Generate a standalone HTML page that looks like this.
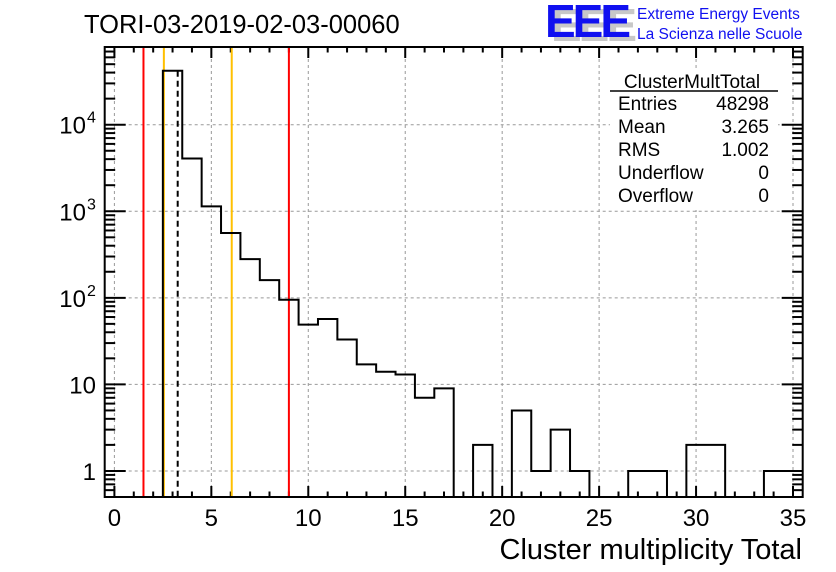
<!DOCTYPE html>
<html><head><meta charset="utf-8"><style>
html,body{margin:0;padding:0;background:#fff;}
svg{display:block;font-family:"Liberation Sans",sans-serif;}
</style></head><body>
<svg id="c" width="836" height="572" viewBox="0 0 836 572">
<rect width="836" height="572" fill="#fff"/>
<g id="grid"></g><g id="ticks"></g><g id="lines"></g><g id="hist"></g>
<rect x="104.7" y="47" width="698" height="450" fill="none" stroke="#000" stroke-width="2"/>
<text x="84" y="33" font-size="25.5">TORI-03-2019-02-03-00060</text>
<g>
<text x="551" y="41" font-size="46" font-weight="bold" fill="#c8c8c8" letter-spacing="-3">EEE</text>
<text x="545" y="37" font-size="46" font-weight="bold" fill="#1010f0" letter-spacing="-3">EEE</text>
<text x="637" y="19" font-size="15.5" fill="#1010f0">Extreme Energy Events</text>
<text x="637" y="39" font-size="15.5" fill="#1010f0">La Scienza nelle Scuole</text>
</g>
<g font-size="19">
<rect x="610" y="70" width="168" height="140" fill="#fff"/>
<text x="692" y="88" text-anchor="middle">ClusterMultTotal</text>
<line x1="610" y1="91" x2="778" y2="91" stroke="#000" stroke-width="1.5"/>
<text x="618" y="110">Entries</text><text x="769" y="110" text-anchor="end">48298</text>
<text x="618" y="133">Mean</text><text x="769" y="133" text-anchor="end">3.265</text>
<text x="618" y="156">RMS</text><text x="769" y="156" text-anchor="end">1.002</text>
<text x="618" y="179">Underflow</text><text x="769" y="179" text-anchor="end">0</text>
<text x="618" y="202">Overflow</text><text x="769" y="202" text-anchor="end">0</text>
</g>
<text x="802" y="559" font-size="29" text-anchor="end">Cluster multiplicity Total</text>
</svg>
<script>
const binCenters=[0,1,2,3,4,5,6,7,8,9,10,11,12,13,14,15,16,17,18,19,20,21,22,23,24,25,26,27,28,29,30,31,32,33,34,35];
const counts=[0,0,0,42000,4070,1140,560,280,160,95,49,57,33,17,14,13,7,9,0,2,0,5,1,3,1,0,0,1,1,0,2,2,0,0,1,1];
const xTicks=[0,5,10,15,20,25,30,35];
const yDecades=[1,10,100,1000,10000];
const yTickBase=["1","10","10","10","10"];
const yTickExp=["","","2","3","4"];
const redLines=[1.5,9];
const orangeLines=[2.5,6];
const meanValue=3.265;
const NS="http://www.w3.org/2000/svg";
const L=104.7,R=802.7,T=47,B=497;
const xmin=-0.5,xmax=35.5,ymin=Math.log10(0.5),ymax=Math.log10(79000);
const X=v=>L+(v-xmin)/(xmax-xmin)*(R-L);
const Y=v=>v<=0?B:Math.min(B,B-(Math.log10(v)-ymin)/(ymax-ymin)*(B-T));
function mk(tag,attrs,parent){const e=document.createElementNS(NS,tag);for(const k in attrs)e.setAttribute(k,attrs[k]);(typeof parent==='string'?document.getElementById(parent):parent).appendChild(e);return e;}
xTicks.forEach(t=>{const e=mk('line',{x1:X(t),x2:X(t),y1:T,y2:B,stroke:'#999','stroke-dasharray':'3,3'},'grid');

});
yDecades.forEach(t=>{const e=mk('line',{x1:L,x2:R,y1:Y(t),y2:Y(t),stroke:'#999','stroke-dasharray':'3,3'},'grid');

});
for(let v=0;v<=35;v++){const maj=v%5===0;const len=maj?11:5.5;
mk('line',{x1:X(v),x2:X(v),y1:B,y2:B-len,stroke:'#000','stroke-width':2},'ticks');
mk('line',{x1:X(v),x2:X(v),y1:T,y2:T+len,stroke:'#000','stroke-width':2},'ticks');}
xTicks.forEach(t=>{const e=mk('text',{x:X(t),y:526,'font-size':24,'text-anchor':'middle'},'ticks');e.textContent=t;

});
for(let d=-1;d<=4;d++){for(let m=1;m<=9;m++){const v=m*Math.pow(10,d);const y=Y(v);if(y<T||y>B||(v<0.5))continue;const len=m===1?21:10.5;
mk('line',{x1:L,x2:L+len,y1:y,y2:y,stroke:'#000','stroke-width':2},'ticks');
mk('line',{x1:R,x2:R-len,y1:y,y2:y,stroke:'#000','stroke-width':2},'ticks');}}
yDecades.forEach((t,i)=>{const hasExp=yTickExp[i]!=='';
const e=mk('text',{x:hasExp?86:96,y:Y(t)+9,'font-size':24,'text-anchor':'end'},'ticks');e.textContent=yTickBase[i];


if(hasExp){const s=mk('text',{x:87,y:Y(t)-2,'font-size':16},'ticks');s.textContent=yTickExp[i];

}});
redLines.forEach(v=>{const e=mk('line',{x1:X(v),x2:X(v),y1:T,y2:B,stroke:'#f00','stroke-width':2},'lines');

});
orangeLines.forEach(v=>{const e=mk('line',{x1:X(v)+1,x2:X(v)+1,y1:T,y2:B,stroke:'#ffc000','stroke-width':2},'lines');

});
const m=mk('line',{x1:X(meanValue),x2:X(meanValue),y1:Y(42000),y2:B,stroke:'#000','stroke-width':2,'stroke-dasharray':'6,4'},'lines');


let d='M'+X(binCenters[0]-0.5)+','+Y(counts[0]);
binCenters.forEach((c,i)=>{const y=Y(counts[i]);d+=' L'+X(c-0.5)+','+y+' L'+X(c+0.5)+','+y;});
const h=mk('path',{d:d,fill:'none',stroke:'#000','stroke-width':2},'hist');


</script>
</body></html>
